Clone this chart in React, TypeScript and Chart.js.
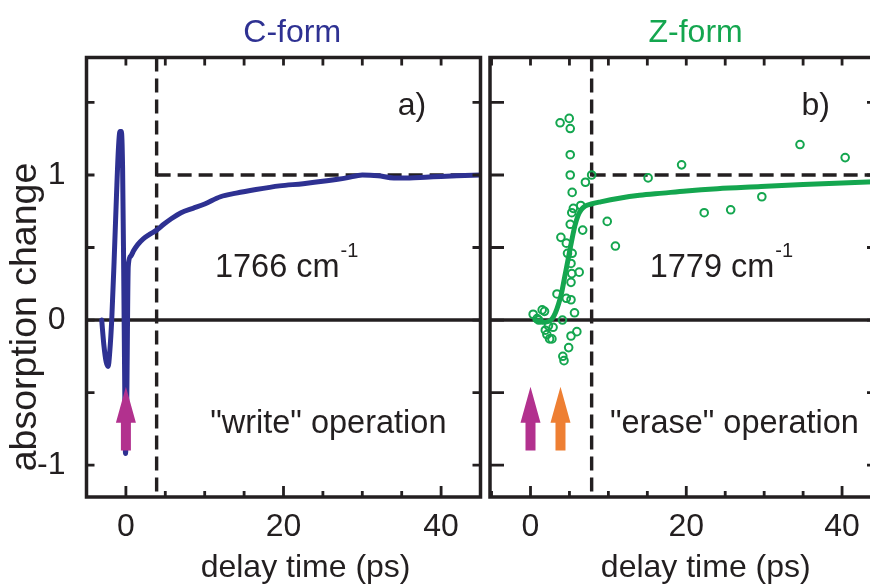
import { useEffect, useRef } from 'react';
import { Chart, registerables } from 'chart.js';

Chart.register(...registerables);

// C-form, 1766 cm-1 transient: delay (ps) and normalised absorption change
const C_TIME = [-3.07, -2.8, -2.5, -2.25, -2.05, -1.8, -1.5, -1.2, -0.95, -0.75, -0.58, -0.42, -0.28, -0.15, -0.05, 0.1, 0.3, 0.6, 1.0, 1.5, 2.2, 3.0, 3.9, 4.8, 5.8, 7.0, 8.5, 10.0, 12.0, 14.0, 16.5, 19.5, 22.5, 25.5, 28.0, 30.0, 32.0, 34.0, 36.0, 38.0, 40.0, 42.0, 45.0];
const C_SIGNAL = [0.0, -0.17, -0.29, -0.32, -0.22, 0.0, 0.4, 0.85, 1.18, 1.3, 1.3, 1.05, 0.35, -0.45, -0.92, -0.6, 0.37, 0.44, 0.48, 0.52, 0.56, 0.59, 0.62, 0.66, 0.7, 0.74, 0.77, 0.8, 0.85, 0.875, 0.9, 0.925, 0.94, 0.96, 0.98, 1.0, 0.995, 0.98, 0.98, 0.985, 0.99, 0.995, 1.0];

// Z-form, 1779 cm-1: fitted rise
const Z_FIT_TIME = [0.6, 1.5, 2.3, 2.8, 3.2, 3.6, 4.0, 4.4, 4.8, 5.3, 5.7, 6.1, 6.5, 7.0, 7.8, 9.0, 11.4, 14.0, 17.0, 20.0, 24.0, 29.6, 35.0, 40.0, 45.0];
const Z_FIT_SIGNAL = [0.0, -0.015, -0.01, 0.01, 0.05, 0.11, 0.19, 0.3, 0.41, 0.55, 0.65, 0.72, 0.76, 0.785, 0.8, 0.815, 0.84, 0.86, 0.875, 0.89, 0.905, 0.92, 0.935, 0.945, 0.955];

// Z-form, 1779 cm-1: measured points
const Z_DATA_TIME = [0.34, 0.85, 1.06, 1.5, 1.8, 1.9, 2.1, 2.3, 2.45, 2.75, 2.9, 3.4, 3.8, 3.9, 4.1, 4.15, 4.3, 4.6, 4.6, 4.75, 4.9, 4.97, 5.1, 5.1, 5.1, 5.1, 5.2, 5.2, 5.2, 5.2, 5.3, 5.3, 5.35, 5.35, 5.5, 5.65, 5.95, 6.25, 6.45, 6.7, 7.05, 7.85, 9.85, 10.9, 15.1, 19.4, 22.3, 25.7, 29.7, 34.6, 40.4];
const Z_DATA_SIGNAL = [0.04, 0.01, 0.0, 0.07, 0.06, -0.07, -0.1, -0.04, -0.13, -0.13, -0.05, 0.18, 1.36, 0.57, 0.0, -0.25, -0.28, 0.15, 0.53, 0.46, -0.19, 1.39, 1.32, 1.14, 1.0, 0.66, 0.39, 0.26, 0.14, -0.11, 0.32, 0.74, 0.46, 0.88, 0.77, 0.05, -0.08, 0.33, 0.79, 0.62, 0.95, 1.0, 0.68, 0.51, 0.98, 1.07, 0.74, 0.76, 0.85, 1.21, 1.12];

// Axis ticks
const X_TICKS = [-5, 0, 5, 10, 15, 20, 25, 30, 35, 40, 45];
const X_LABELED = [0, 20, 40];
const Y_TICKS = [-1, -0.5, 0, 0.5, 1, 1.5];
const Y_LABELED = [-1, 0, 1];

// Reference level, switching times and pulse markers
const PLATEAU = 1;
const C_SWITCH_TIME = 3.9;
const Z_SWITCH_TIME = 7.85;
const C_PULSE_TIMES = [0];
const Z_PULSE_TIMES = [0, 3.85];
const PULSE_TIP = -0.46;
const PULSE_BASE = -0.9;

const INK = '#231f20';
const C_BLUE = '#2e3192';
const Z_GREEN = '#14a64f';
const PUMP_MAGENTA = '#b2318e';
const PROBE_ORANGE = '#ee7f33';
const FONT = '"Liberation Sans", Arial, Helvetica, sans-serif';

type PanelSpec = {
  xMin: number;
  leftPad: number;
  showYAxis: boolean;
  title: string;
  titleColor: string;
  titleAt: number;
  xTitleAt: number;
  tag: string;
  tagAt: number;
  band: string;
  bandAt: number;
  operation: string;
  operationAt: number;
  switchTime: number;
  pulses: { time: number; color: string }[];
  sideTick: number;
};

const C_PANEL: PanelSpec = {
  xMin: -5,
  leftPad: 0,
  showYAxis: true,
  title: 'C-form',
  titleColor: C_BLUE,
  titleAt: 21.1,
  xTitleAt: 22.8,
  tag: 'a)',
  tagAt: 34.5,
  band: '1766',
  bandAt: 11.3,
  operation: '"write" operation',
  operationAt: 10.7,
  switchTime: C_SWITCH_TIME,
  pulses: C_PULSE_TIMES.map((t) => ({ time: t, color: PUMP_MAGENTA })),
  sideTick: 8,
};

const Z_PANEL: PanelSpec = {
  xMin: -5.2,
  leftPad: 5.5,
  showYAxis: false,
  title: 'Z-form',
  titleColor: Z_GREEN,
  titleAt: 21.2,
  xTitleAt: 22.5,
  tag: 'b)',
  tagAt: 34.8,
  band: '1779',
  bandAt: 15.3,
  operation: '"erase" operation',
  operationAt: 10.2,
  switchTime: Z_SWITCH_TIME,
  pulses: Z_PULSE_TIMES.map((t, i) => ({ time: t, color: i === 0 ? PUMP_MAGENTA : PROBE_ORANGE })),
  sideTick: 14,
};

function drawPulse(ctx: CanvasRenderingContext2D, x: number, yTip: number, yBase: number, color: string) {
  const headLen = 36;
  const headHalf = 10;
  const shaftHalf = 5;
  ctx.fillStyle = color;
  ctx.beginPath();
  ctx.moveTo(x, yTip);
  ctx.lineTo(x + headHalf, yTip + headLen);
  ctx.lineTo(x + shaftHalf, yTip + headLen);
  ctx.lineTo(x + shaftHalf, yBase);
  ctx.lineTo(x - shaftHalf, yBase);
  ctx.lineTo(x - shaftHalf, yTip + headLen);
  ctx.lineTo(x - headHalf, yTip + headLen);
  ctx.closePath();
  ctx.fill();
}

function drawGuides(chart: Chart, spec: PanelSpec) {
  const { ctx, chartArea: a } = chart;
  const x = chart.scales.x;
  const y = chart.scales.y;
  ctx.save();
  ctx.strokeStyle = INK;
  ctx.lineWidth = 3.4;
  // zero line
  const y0 = y.getPixelForValue(0);
  ctx.beginPath();
  ctx.moveTo(a.left, y0);
  ctx.lineTo(a.right, y0);
  ctx.stroke();
  // switching time and plateau level
  ctx.setLineDash([14, 7]);
  const xs = x.getPixelForValue(spec.switchTime);
  ctx.beginPath();
  ctx.moveTo(xs, a.top);
  ctx.lineTo(xs, a.bottom);
  ctx.stroke();
  const yp = y.getPixelForValue(PLATEAU);
  ctx.beginPath();
  ctx.moveTo(xs, yp);
  ctx.lineTo(a.right, yp);
  ctx.stroke();
  ctx.restore();
}

function drawDecor(chart: Chart, spec: PanelSpec) {
  const { ctx, chartArea: a } = chart;
  const x = chart.scales.x;
  const y = chart.scales.y;
  ctx.save();

  // pulse arrows
  const yTip = y.getPixelForValue(PULSE_TIP);
  const yBase = y.getPixelForValue(PULSE_BASE);
  spec.pulses.forEach((p) => drawPulse(ctx, x.getPixelForValue(p.time), yTip, yBase, p.color));

  // frame
  ctx.strokeStyle = INK;
  ctx.lineWidth = 3.5;
  ctx.strokeRect(a.left, a.top, a.right - a.left, a.bottom - a.top);

  // inward ticks
  ctx.lineWidth = 2.8;
  ctx.beginPath();
  X_TICKS.forEach((t) => {
    if (t <= spec.xMin || t >= 45) return;
    const px = x.getPixelForValue(t);
    const len = X_LABELED.includes(t) ? 11 : 6;
    ctx.moveTo(px, a.bottom);
    ctx.lineTo(px, a.bottom - len);
    ctx.moveTo(px, a.top);
    ctx.lineTo(px, a.top + 8);
  });
  Y_TICKS.forEach((v) => {
    const py = y.getPixelForValue(v);
    ctx.moveTo(a.left, py);
    ctx.lineTo(a.left + spec.sideTick, py);
    ctx.moveTo(a.right, py);
    ctx.lineTo(a.right - spec.sideTick, py);
  });
  ctx.stroke();

  // texts
  ctx.textBaseline = 'alphabetic';
  ctx.fillStyle = spec.titleColor;
  ctx.font = `32px ${FONT}`;
  ctx.textAlign = 'center';
  ctx.fillText(spec.title, x.getPixelForValue(spec.titleAt), 42);

  ctx.fillStyle = INK;
  ctx.fillText('delay time (ps)', x.getPixelForValue(spec.xTitleAt), 577);

  ctx.textAlign = 'left';
  ctx.fillText(spec.tag, x.getPixelForValue(spec.tagAt), 115);

  ctx.font = `32.5px ${FONT}`;
  const bx = x.getPixelForValue(spec.bandAt);
  const by = y.getPixelForValue(0.3);
  const main = `${spec.band} cm`;
  ctx.fillText(main, bx, by);
  const w = ctx.measureText(main).width;
  ctx.font = `20px ${FONT}`;
  ctx.fillText('-1', bx + w + 1, by - 20);

  ctx.font = `32.5px ${FONT}`;
  ctx.fillText(spec.operation, x.getPixelForValue(spec.operationAt), y.getPixelForValue(-0.78));

  if (spec.showYAxis) {
    ctx.save();
    ctx.translate(36, 317);
    ctx.rotate(-Math.PI / 2);
    ctx.textAlign = 'center';
    ctx.font = `37.5px ${FONT}`;
    ctx.fillText('absorption change', 0, 0);
    ctx.restore();
  }
  ctx.restore();
}

function buildPanel(canvas: HTMLCanvasElement, spec: PanelSpec, datasets: any[]) {
  const decor = {
    id: 'panelDecor',
    beforeDatasetsDraw(chart: Chart) {
      drawGuides(chart, spec);
    },
    afterDatasetsDraw(chart: Chart) {
      drawDecor(chart, spec);
    },
  };
  const yScale: any = {
    type: 'linear',
    min: -1.22,
    max: 1.81,
    display: spec.showYAxis,
    grid: { display: false },
    border: { display: false },
    ticks: {
      stepSize: 0.5,
      includeBounds: false,
      padding: 13,
      color: INK,
      font: { size: 32, family: FONT },
      callback: (v: any) => (Y_LABELED.includes(Number(v)) ? String(v) : ''),
    },
  };
  if (spec.showYAxis) {
    yScale.afterFit = (s: any) => {
      s.width = 86.5;
    };
  }
  return new Chart(canvas, {
    type: 'scatter',
    data: { datasets },
    options: {
      responsive: false,
      animation: false,
      devicePixelRatio: 1,
      events: [],
      layout: { padding: { left: spec.leftPad, right: 3.5, top: 57.5, bottom: 0 } },
      plugins: { legend: { display: false }, tooltip: { enabled: false }, title: { display: false } },
      scales: {
        x: {
          type: 'linear',
          min: spec.xMin,
          max: 45,
          afterFit: (s: any) => {
            s.height = 87;
          },
          grid: { display: false },
          border: { display: false },
          ticks: {
            stepSize: 5,
            autoSkip: false,
            maxRotation: 0,
            includeBounds: false,
            padding: 3,
            color: INK,
            font: { size: 32, family: FONT },
            callback: (v: any) => (X_LABELED.includes(Number(v)) ? String(v) : ''),
          },
        },
        y: yScale,
      },
    } as any,
    plugins: [decor],
  });
}

const toPoints = (xs: number[], ys: number[]) => xs.map((t, i) => ({ x: t, y: ys[i] }));

export default function App() {
  const leftRef = useRef<HTMLCanvasElement>(null);
  const rightRef = useRef<HTMLCanvasElement>(null);

  useEffect(() => {
    const left = buildPanel(leftRef.current!, C_PANEL, [
      {
        data: toPoints(C_TIME, C_SIGNAL),
        showLine: true,
        borderColor: C_BLUE,
        borderWidth: 5,
        pointRadius: 0,
        cubicInterpolationMode: 'monotone',
        borderJoinStyle: 'round',
        borderCapStyle: 'round',
      },
    ]);
    const right = buildPanel(rightRef.current!, Z_PANEL, [
      {
        data: toPoints(Z_FIT_TIME, Z_FIT_SIGNAL),
        showLine: true,
        borderColor: Z_GREEN,
        borderWidth: 5,
        pointRadius: 0,
        cubicInterpolationMode: 'monotone',
        borderJoinStyle: 'round',
        borderCapStyle: 'round',
      },
      {
        data: toPoints(Z_DATA_TIME, Z_DATA_SIGNAL),
        showLine: false,
        pointRadius: 3.8,
        pointBorderWidth: 2,
        pointBorderColor: Z_GREEN,
        pointBackgroundColor: 'rgba(255,255,255,0)',
      },
    ]);
    return () => {
      left.destroy();
      right.destroy();
    };
  }, []);

  return (
    <div
      style={{
        position: 'fixed',
        left: 0,
        top: 0,
        width: 870,
        height: 584,
        overflow: 'hidden',
        background: '#ffffff',
      }}
    >
      <canvas
        ref={leftRef}
        width={484}
        height={584}
        style={{ position: 'absolute', left: 0, top: 0, width: 484, height: 584 }}
      />
      <canvas
        ref={rightRef}
        width={403}
        height={584}
        style={{ position: 'absolute', left: 484, top: 0, width: 403, height: 584 }}
      />
    </div>
  );
}
